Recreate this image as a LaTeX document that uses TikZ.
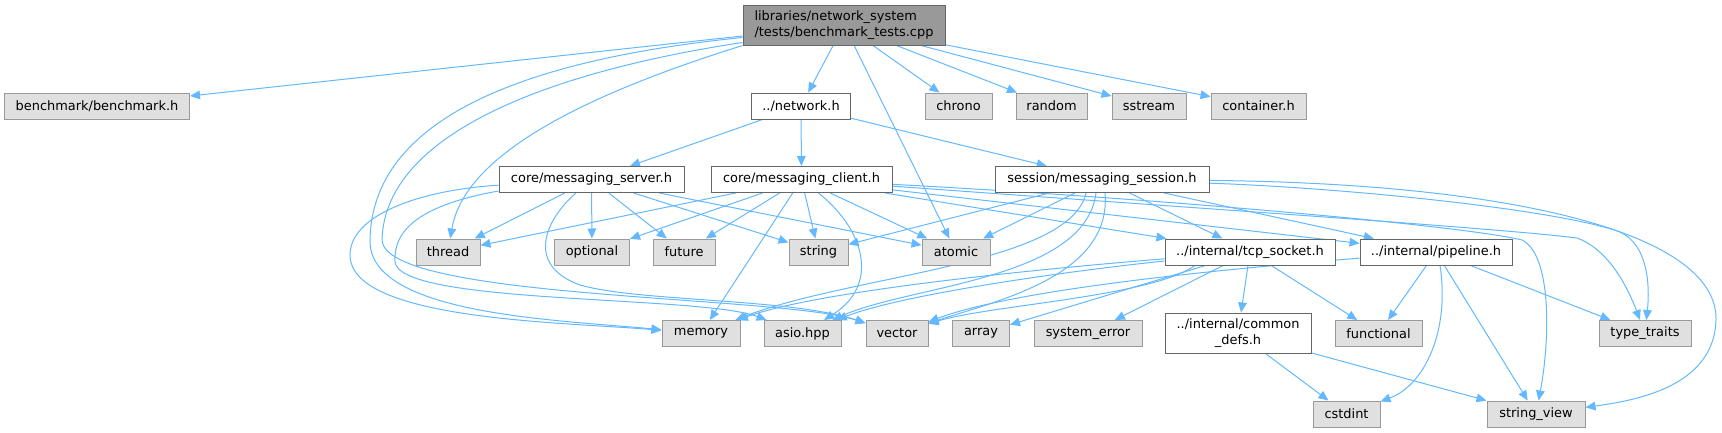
\documentclass[tikz,border=0pt]{standalone}
\usepackage{fontspec}
\setmainfont{DejaVu Sans}
\usetikzlibrary{arrows.meta,calc}
\definecolor{edgec}{HTML}{63B8FF}
\definecolor{gfill}{HTML}{E0E0E0}
\definecolor{gline}{HTML}{999999}
\definecolor{dline}{HTML}{666666}
\definecolor{rfill}{HTML}{999999}
\pgfdeclarelayer{bg}
\pgfsetlayers{bg,main}
\begin{document}
\begin{tikzpicture}[x=0.75pt,y=-0.75pt,
  bx/.style={rectangle,inner sep=0pt,line width=0.75pt,minimum height=19.5pt,
    font=\fontsize{9.7pt}{11.7pt}\selectfont,text=black},
  gbox/.style={bx,draw=gline,fill=gfill},
  wbox/.style={bx,draw=dline,fill=white},
  rbox/.style={bx,draw=dline,fill=rfill},
  lnk/.style={draw=edgec,line width=0.75pt,-{Triangle[length=7.5pt,width=6.5pt]}}]
\useasboundingbox (0,0) rectangle (1722,432);
% nodes
\node[rbox,minimum width=151.5pt,minimum height=30pt,align=left] (root) at (844,25) {libraries/network\_system\\/tests/benchmark\_tests.cpp};
\node[gbox,minimum width=138.75pt] (bench) at (97,106) {benchmark/benchmark.h};
\node[wbox,minimum width=74.25pt] (network) at (801,106) {../network.h};
\node[gbox,minimum width=50.25pt] (chrono) at (958.5,106) {chrono};
\node[gbox,minimum width=53.25pt] (random) at (1051.5,106) {random};
\node[gbox,minimum width=55.5pt] (sstream) at (1149,106) {sstream};
\node[gbox,minimum width=71.25pt] (container) at (1258.5,106) {container.h};
\node[wbox,minimum width=138.75pt] (server) at (591.5,179.5) {core/messaging\_server.h};
\node[wbox,minimum width=135.75pt] (client) at (801.5,179.5) {core/messaging\_client.h};
\node[wbox,minimum width=160.5pt] (session) at (1102,179.5) {session/messaging\_session.h};
\node[gbox,minimum width=48pt] (thread) at (448,252) {thread};
\node[gbox,minimum width=56.25pt] (optional) at (592,252) {optional};
\node[gbox,minimum width=46.5pt] (future) at (684,252) {future};
\node[gbox,minimum width=44.25pt] (string) at (818.5,252) {string};
\node[gbox,minimum width=51pt] (atomic) at (956,252) {atomic};
\node[wbox,minimum width=127.5pt] (tcp) at (1250,252) {../internal/tcp\_socket.h};
\node[wbox,minimum width=114pt] (pipeline) at (1436,252) {../internal/pipeline.h};
\node[gbox,minimum width=58.5pt] (memory) at (701,333.5) {memory};
\node[gbox,minimum width=57.75pt] (asio) at (802.5,333.5) {asio.hpp};
\node[gbox,minimum width=46.5pt] (vector) at (897,333.5) {vector};
\node[gbox,minimum width=42.75pt] (array) at (981,333.5) {array};
\node[gbox,minimum width=81pt] (syserr) at (1088,333.5) {system\_error};
\node[wbox,minimum width=109.5pt,minimum height=30pt,align=center] (common) at (1238,333) {../internal/common\\\_defs.h};
\node[gbox,minimum width=65.25pt] (functional) at (1378.5,333.5) {functional};
\node[gbox,minimum width=69pt] (tt) at (1645,333.5) {type\_traits};
\node[gbox,minimum width=50.25pt] (cstdint) at (1346.5,414) {cstdint};
\node[gbox,minimum width=73.5pt] (sv) at (1536,414) {string\_view};
\begin{pgfonlayer}{bg}
% root
\draw[lnk] (root) -- (bench);
\draw[lnk] (root) -- (network);
\draw[lnk] (root) -- (chrono);
\draw[lnk] (root) -- (random);
\draw[lnk] (root) -- (sstream);
\draw[lnk] (root) -- (container);
\draw[lnk] (root) -- (atomic);
\draw[lnk] (root.south west) .. controls (600,90) and (465,150) .. (thread);
\draw[lnk] ($(root.south west)+(0,-8)$) .. controls (520,60) and (372,120) .. (370,240) .. controls (368,315) and (560,320) .. (memory);
\draw[lnk] ($(root.south west)+(0,-3)$) .. controls (560,70) and (385,130) .. (382,240) .. controls (385,300) and (780,295) .. (vector);
% network
\draw[lnk] (network) -- (server);
\draw[lnk] (network) -- (client);
\draw[lnk] (network) -- (session);
% server
\draw[lnk] (server) -- (thread);
\draw[lnk] (server) -- (optional);
\draw[lnk] (server) -- (future);
\draw[lnk] (server) -- (string);
\draw[lnk] (server) -- (atomic);
\draw[lnk] (server) .. controls (420,190) and (350,215) .. (350,255) .. controls (350,320) and (560,322) .. (memory);
\draw[lnk] ($(server.south west)+(0,-2)$) .. controls (420,205) and (393,230) .. (395,262) .. controls (400,305) and (700,295) .. (asio);
\draw[lnk] (server) .. controls (545,220) and (525,265) .. (580,285) .. controls (640,302) and (790,298) .. (vector);
% client
\draw[lnk] (client) -- (thread);
\draw[lnk] (client) -- (optional);
\draw[lnk] (client) -- (future);
\draw[lnk] (client) -- (memory);
\draw[lnk] (client) -- (string);
\draw[lnk] (client) -- (atomic);
\draw[lnk] (client) -- (tcp);
\draw[lnk] (client) -- (pipeline);
\draw[lnk] (client) .. controls (865,230) and (880,285) .. (asio);
\draw[lnk] (client) .. controls (1150,205) and (1500,228) .. (1577,238) .. controls (1605,248) and (1625,280) .. (tt);
\draw[lnk] (client) .. controls (1150,198) and (1460,225) .. (1522,240) .. controls (1552,255) and (1550,340) .. (sv);
% session
\draw[lnk] (session) -- (string);
\draw[lnk] (session) -- (atomic);
\draw[lnk] (session) -- (tcp);
\draw[lnk] (session) -- (pipeline);
\draw[lnk] ($(session.south)+(-16,0)$) .. controls (1070,265) and (850,275) .. (memory);
\draw[lnk] ($(session.south)+(-6,0)$) .. controls (1085,280) and (910,285) .. (asio);
\draw[lnk] ($(session.south)+(3,0)$) .. controls (1112,275) and (1000,300) .. (vector);
\draw[lnk] (session) .. controls (1350,188) and (1560,210) .. (1620,232) .. controls (1648,245) and (1650,285) .. (tt);
\draw[lnk] (session) .. controls (1500,183) and (1718,230) .. (1716,320) .. controls (1714,385) and (1640,400) .. (sv);
% tcp
\draw[lnk] (tcp) .. controls (1050,268) and (820,290) .. (memory);
\draw[lnk] (tcp) .. controls (1060,272) and (900,295) .. (asio);
\draw[lnk] ($(tcp.south)+(-55,0)$) .. controls (1150,297) and (990,305) .. (vector);
\draw[lnk] (tcp) -- (array);
\draw[lnk] (tcp) -- (syserr);
\draw[lnk] (tcp) -- (common);
\draw[lnk] (tcp) -- (functional);
% pipeline
\draw[lnk] (pipeline) .. controls (1150,275) and (1000,295) .. (vector);
\draw[lnk] (pipeline) -- (functional);
\draw[lnk] ($(pipeline.south)+(4,0)$) .. controls (1450,330) and (1425,385) .. (cstdint);
\draw[lnk] (pipeline) -- (sv);
\draw[lnk] (pipeline) -- (tt);
% common
\draw[lnk] (common) -- (cstdint);
\draw[lnk] (common) -- (sv);
\end{pgfonlayer}
\end{tikzpicture}
\end{document}
